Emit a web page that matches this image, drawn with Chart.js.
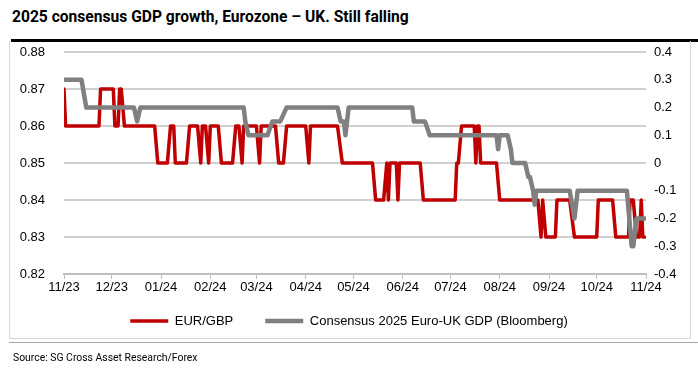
<!DOCTYPE html>
<html lang="en">
<head>
  <meta charset="UTF-8" />
  <title>2025 consensus GDP growth, Eurozone – UK</title>
  <script src="https://cdn.jsdelivr.net/npm/chart.js"></script>
  <style>
    body { margin: 0; background: #fff; }
    #wrap { position: relative; width: 698px; height: 376px; overflow: hidden; }
    #wrap canvas { position: absolute; left: 0; top: 0; }
    .title { position: absolute; left: 12px; top: 8px; font: bold 15.6px 'Roboto', sans-serif; color: #000; white-space: nowrap; }
    .rule { position: absolute; left: 11px; top: 39px; width: 687px; height: 3px; background: #000; }
    .frame { position: absolute; left: 9px; top: 41px; width: 680px; height: 297px; border-left: 1px solid #d9d9d9; border-right: 1px solid #d9d9d9; border-bottom: 1px solid #d9d9d9; }
    .sep { position: absolute; left: 9px; top: 342px; width: 689px; height: 1px; background: #a6a6a6; }
    .src { position: absolute; left: 13px; top: 351px; font: 10.4px 'Roboto', sans-serif; color: #000; white-space: nowrap; }
  </style>
</head>
<body>

<div id="wrap">
  <div class="title">2025 consensus GDP growth, Eurozone – UK. Still falling</div>
  <div class="rule"></div>
  <div class="frame"></div>
  <canvas id="chart" width="698" height="376"></canvas>
  <div class="sep"></div>
  <div class="src">Source: SG Cross Asset Research/Forex</div>
</div>

<script>
  // x = days since 1 Nov 2023
  const monthDays = [0, 30, 61, 92, 121, 152, 182, 213, 243, 274, 305, 335, 366];
  const monthLabels = ['11/23', '12/23', '01/24', '02/24', '03/24', '04/24', '05/24',
                       '06/24', '07/24', '08/24', '09/24', '10/24', '11/24'];

  // EUR/GBP (left axis)
  const eurgbpDays = [0, 1, 22, 23, 31, 32, 34, 35, 36, 38, 57, 59, 65, 67, 69, 70, 77, 79, 84, 86,
    87, 89, 91, 92, 97, 99, 106, 108, 110, 112, 113, 121, 123, 124, 133, 135, 138, 140, 152, 154,
    155, 172, 175, 194, 196, 201, 203, 204, 205, 209, 210, 211, 224, 226, 246, 247, 248, 250, 258,
    259, 260, 261, 262, 272, 274, 298, 300, 301, 303, 309, 310, 318, 321, 335, 336, 345, 347, 355,
    356, 358, 360, 362, 363, 364, 365];
  const eurgbp = [0.87, 0.86, 0.86, 0.87, 0.87, 0.86, 0.86, 0.87, 0.87, 0.86, 0.86, 0.85, 0.85, 0.86,
    0.86, 0.85, 0.85, 0.86, 0.86, 0.85, 0.86, 0.86, 0.85, 0.86, 0.86, 0.85, 0.85, 0.86, 0.86, 0.85,
    0.86, 0.86, 0.85, 0.86, 0.86, 0.85, 0.85, 0.86, 0.86, 0.85, 0.86, 0.86, 0.85, 0.85, 0.84, 0.84,
    0.85, 0.84, 0.85, 0.85, 0.84, 0.85, 0.85, 0.84, 0.84, 0.85, 0.85, 0.86, 0.86, 0.85, 0.86, 0.86,
    0.85, 0.85, 0.84, 0.84, 0.83, 0.84, 0.83, 0.83, 0.84, 0.84, 0.83, 0.83, 0.84, 0.84, 0.83, 0.83,
    0.84, 0.84, 0.83, 0.83, 0.84, 0.83, 0.83];

  // Consensus 2025 Euro-UK GDP (right axis)
  const gdpDays = [0, 11, 14, 44, 46, 48, 113, 114, 116, 128, 131, 136, 140, 172, 174, 176, 177, 179,
    219, 220, 227, 230, 272, 273, 274, 279, 281, 282, 290, 292, 293, 295, 296, 297, 318, 321, 323,
    354, 357, 358, 360, 366];
  const gdp = [0.3, 0.3, 0.2, 0.2, 0.15, 0.2, 0.2, 0.15, 0.1, 0.1, 0.15, 0.15, 0.2, 0.2, 0.15, 0.15,
    0.1, 0.2, 0.2, 0.15, 0.15, 0.1, 0.1, 0.05, 0.1, 0.1, 0.05, 0, 0, -0.05, -0.05, -0.1, -0.15, -0.1,
    -0.1, -0.2, -0.1, -0.1, -0.3, -0.3, -0.2, -0.2];

  const tickFont = { family: "'Liberation Sans', Arial, sans-serif", size: 13 };

  // pull the legend up so it sits closer to the axis labels (keeps wide item spacing)
  const legendLift = {
    id: 'legendLift',
    afterLayout(chart) {
      chart.legend.top -= 19.5;
      chart.legend.bottom -= 19.5;
    }
  };

  new Chart(document.getElementById('chart'), {
    type: 'line',
    plugins: [legendLift],
    data: {
      datasets: [{
        label: 'EUR/GBP',
        data: eurgbpDays.map((d, i) => ({ x: d, y: eurgbp[i] })),
        yAxisID: 'y',
        borderColor: '#c00000',
        backgroundColor: '#c00000',
        borderWidth: 3.5,
        order: 1
      }, {
        label: 'Consensus 2025 Euro-UK GDP (Bloomberg)',
        data: gdpDays.map((d, i) => ({ x: d, y: gdp[i] })),
        yAxisID: 'y1',
        borderColor: '#808080',
        backgroundColor: '#808080',
        borderWidth: 4.5,
        order: 0
      }]
    },
    options: {
      responsive: false,
      animation: false,
      devicePixelRatio: 1,
      layout: { padding: { top: 52, bottom: 19, left: 0, right: 0 } },
      elements: {
        point: { radius: 0 },
        line: { tension: 0, borderJoinStyle: 'round', borderCapStyle: 'round' }
      },
      plugins: {
        tooltip: { enabled: false },
        legend: {
          position: 'bottom',
          labels: {
            usePointStyle: true,
            pointStyle: 'line',
            pointStyleWidth: 38,
            padding: 32,
            color: '#000',
            font: tickFont,
            sort: (a, b) => a.datasetIndex - b.datasetIndex
          }
        }
      },
      scales: {
        x: {
          type: 'linear',
          min: 0,
          max: 366,
          afterBuildTicks: s => { s.ticks = monthDays.map(v => ({ value: v })); },
          afterFit: s => { s.height = 28; },
          ticks: {
            autoSkip: false,
            maxRotation: 0,
            padding: 1,
            color: '#000',
            font: tickFont,
            callback: v => monthLabels[monthDays.indexOf(v)]
          },
          grid: { drawOnChartArea: false, tickLength: 5, color: '#bfbfbf' },
          border: { color: '#bfbfbf', width: 2 }
        },
        y: {
          position: 'left',
          min: 0.82,
          max: 0.88,
          afterFit: s => { s.width = 64; },
          ticks: {
            stepSize: 0.01,
            padding: 19,
            color: '#000',
            font: tickFont,
            callback: v => v.toFixed(2)
          },
          grid: { color: '#d0d0d0', lineWidth: 2, drawTicks: false },
          border: { display: false }
        },
        y1: {
          position: 'right',
          min: -0.4,
          max: 0.4,
          afterFit: s => { s.width = 52; },
          ticks: {
            stepSize: 0.1,
            padding: 8,
            color: '#000',
            font: tickFont,
            callback: v => String(Math.round(v * 10) / 10)
          },
          grid: { drawOnChartArea: false, drawTicks: false },
          border: { display: false }
        }
      }
    }
  });
</script>

</body>
</html>
